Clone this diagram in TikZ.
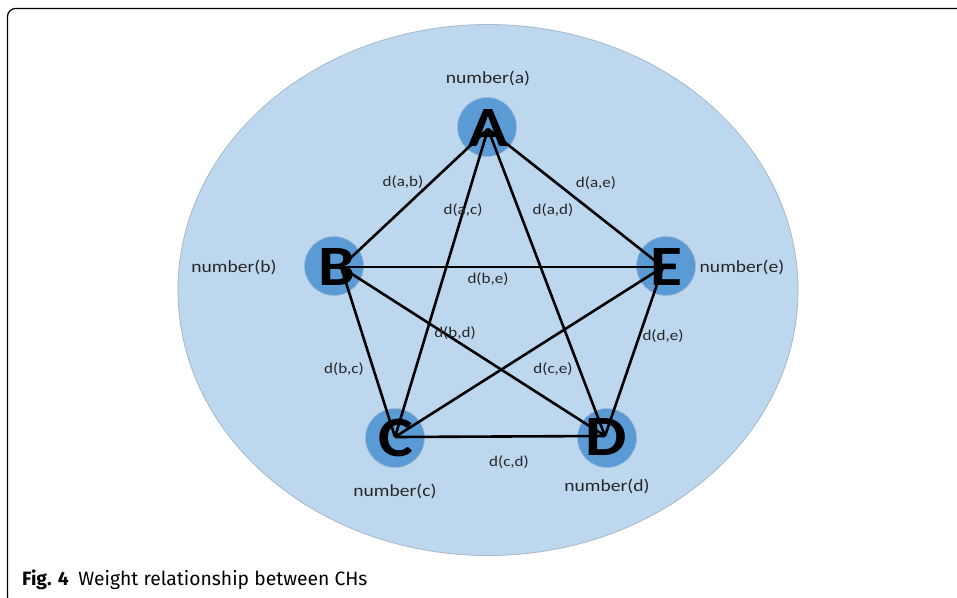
\documentclass[tikz,border=0pt]{standalone}
\usetikzlibrary{shapes.geometric}
\usepackage{fontspec}
\setmainfont{Carlito}[FakeStretch=1.15]
\newfontfamily\capfont{Fira Sans}
\definecolor{ellfill}{HTML}{BDD7EE}
\definecolor{ellline}{HTML}{A9B8C6}
\definecolor{nodefill}{HTML}{5B9BD5}
\definecolor{nodeline}{HTML}{9DB7D0}
\definecolor{txt}{HTML}{262626}
\begin{document}
\begin{tikzpicture}[x=1pt,y=-1pt,
  ch/.style={circle,fill=nodefill,draw=nodeline,line width=0.6pt,minimum size=59pt,inner sep=0pt},
  letter/.style={inner sep=0pt,font=\fontsize{57}{57}\selectfont\bfseries},
  lbl/.style={inner sep=0pt,text=txt,font=\fontsize{17}{17}\selectfont},
  wl/.style={inner sep=0pt,text=txt,font=\fontsize{14.8}{15}\selectfont},
  edge/.style={line width=2.6pt,black}]
\useasboundingbox (0,0) rectangle (957,597);
\begin{scope}
\clip (0,0) rectangle (957,597);
\draw[line width=1.2pt,rounded corners=8pt] (7.5,8.5) rectangle (975,605);
\end{scope}
\node[ellipse,draw=ellline,fill=ellfill,line width=0.8pt,minimum width=620pt,minimum height=531pt,inner sep=0pt] (ell) at (488,290) {};
% circles
\node[ch] (ca) at (487,127) {};
\node[ch] (cb) at (334,266) {};
\node[ch] (cc) at (395,438) {};
\node[ch] (cd) at (607,438) {};
\node[ch] (ce) at (666,266) {};
% hub coordinates
\coordinate (A) at (488,129);
\coordinate (B) at (341,267);
\coordinate (C) at (395,437);
\coordinate (D) at (605,436);
\coordinate (E) at (663,267);
% edges
\draw[edge] (A) -- (B);
\draw[edge] (A) -- (C);
\draw[edge] (A) -- (D);
\draw[edge] (A) -- (E);
\draw[edge] (B) -- (C);
\draw[edge] (B) -- (D);
\draw[edge] (B) -- (E);
\draw[edge] (C) -- (D);
\draw[edge] (C) -- (E);
\draw[edge] (D) -- (E);
% letters
\node[letter] (la) at (488,128) {A};
\node[letter] (lb) at (337,267) {B};
\node[letter] (lc) at (396,438) {C};
\node[letter] (ld) at (606,437) {D};
\node[letter] (le) at (666,267) {E};
% number labels
\node[lbl] (na) at (488,78) {number(a)};
\node[lbl] (nb) at (234,267) {number(b)};
\node[lbl] (ne) at (742,267) {number(e)};
\node[lbl] (nc) at (395,491) {number(c)};
\node[lbl] (nd) at (607,486) {number(d)};
% weight labels
\node[wl] (wab) at (403,182) {d(a,b)};
\node[wl] (wac) at (463,210) {d(a,c)};
\node[wl] (wad) at (553,210) {d(a,d)};
\node[wl] (wae) at (596,183) {d(a,e)};
\node[wl] (wbe) at (488,279) {d(b,e)};
\node[wl] (wbd) at (455,333) {d(b,d)};
\node[wl] (wbc) at (344,369) {d(b,c)};
\node[wl] (wce) at (553,369) {d(c,e)};
\node[wl] (wde) at (663,336) {d(d,e)};
\node[wl] (wcd) at (509,462) {d(c,d)};
% caption
\node[anchor=base west,inner sep=0pt,text=black,font=\capfont\fontsize{19.3}{20}\selectfont] (cap) at (22,585) {\textbf{Fig. 4}\hspace{0.5em}Weight relationship between CHs};
\end{tikzpicture}
\end{document}
